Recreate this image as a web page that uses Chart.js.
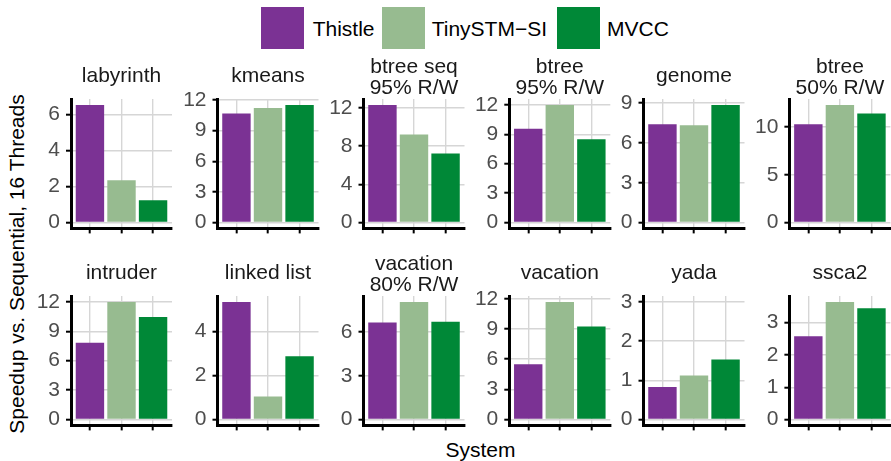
<!DOCTYPE html>
<html><head><meta charset="utf-8">
<script src="https://cdn.jsdelivr.net/npm/chart.js@4.4.1/dist/chart.umd.min.js"></script>
<style>
html,body{margin:0;padding:0;background:#fff;}
#root{position:relative;width:891px;height:461px;overflow:hidden;font-family:"Liberation Sans",Arial,sans-serif;}
#root canvas{position:absolute;}
.sw{position:absolute;top:7px;width:43px;height:42px;}
.lt{position:absolute;top:18px;font-size:21px;line-height:21px;color:#000;white-space:nowrap;}
#xt{position:absolute;left:380px;width:201px;text-align:center;top:439px;font-size:21px;line-height:21px;color:#000;}
#yt{position:absolute;left:-183px;top:252px;width:400px;height:24px;line-height:24px;text-align:center;font-size:21px;color:#000;transform:rotate(-90deg);white-space:nowrap;}
</style></head><body><div id="root"></div>
<script>
// ---- data ----
const systems = ['Thistle', 'TinySTM\u2212SI', 'MVCC'];
const colors = ['#7B3294', '#97BB90', '#008837'];
const benchmarks = [['labyrinth'], ['kmeans'], ['btree seq', '95% R/W'], ['btree', '95% R/W'], ['genome'], ['btree', '50% R/W'],
                    ['intruder'], ['linked list'], ['vacation', '80% R/W'], ['vacation'], ['yada'], ['ssca2']];
const thistle = [6.54, 10.69, 12.33, 9.56, 7.41, 10.30, 7.83, 5.33, 6.64, 5.49, 0.83, 2.58];
const tinystm = [2.35, 11.22, 9.23, 12.00, 7.34, 12.33, 12.00, 1.04, 8.06, 11.69, 1.12, 3.64];
const mvcc    = [1.24, 11.53, 7.23, 8.49, 8.87, 11.43, 10.47, 2.87, 6.70, 9.24, 1.53, 3.44];
const yTicks = [[0,2,4,6], [0,3,6,9,12], [0,4,8,12], [0,3,6,9,12], [0,3,6,9], [0,5,10],
                [0,3,6,9,12], [0,2,4], [0,3,6], [0,3,6,9,12], [0,1,2,3], [0,1,2,3]];
const yExpandTo = [0,0,0,0,0,0,0,0,0,0,3,0];
const yTitle = 'Speedup vs. Sequential, 16 Threads';
const xTitle = 'System';

// ---- layout ----
const root = document.getElementById('root');
const panelLeft = [71, 217.5, 363.5, 509.3, 643.5, 789.4];
const rowTop = [99, 296];
const panelW = 101, panelH = 135.5, titleH = 48, axisPad = 42;
const swLeft = [261, 382, 556.7], txtLeft = [312.7, 431.7, 607];
const FONT = "'Liberation Sans', Arial, sans-serif";
Chart.defaults.font.family = FONT;

systems.forEach((s, i) => {
  const sw = document.createElement('div');
  sw.className = 'sw'; sw.style.left = swLeft[i] + 'px'; sw.style.background = colors[i];
  root.appendChild(sw);
  const t = document.createElement('div');
  t.className = 'lt'; t.style.left = txtLeft[i] + 'px'; t.textContent = s;
  root.appendChild(t);
});
const xt = document.createElement('div'); xt.id = 'xt'; xt.textContent = xTitle; root.appendChild(xt);
const yt = document.createElement('div'); yt.id = 'yt'; yt.textContent = yTitle; root.appendChild(yt);

const series = [thistle, tinystm, mvcc];
benchmarks.forEach((title, p) => {
  const col = p % 6, row = Math.floor(p / 6);
  const L = panelLeft[col], T = rowTop[row];
  const cLeft = Math.floor(L) - axisPad;
  const yW = L - cLeft;
  const cTop = T - titleH;
  const cW = Math.ceil(yW + panelW) + 1;
  const padRight = cW - yW - panelW;
  const cH = Math.ceil(titleH + panelH + 12);
  const xH = cH - titleH - panelH;
  const cv = document.createElement('canvas');
  cv.width = cW; cv.height = cH;
  cv.style.left = cLeft + 'px'; cv.style.top = cTop + 'px';
  root.appendChild(cv);
  const lim = Math.max(...series.map(s => s[p]), yExpandTo[p]);
  const two = title.length > 1;
  new Chart(cv, {
    type: 'bar',
    data: {
      datasets: systems.map((s, i) => ({
        label: s, data: [{ x: i + 1, y: series[i][p] }],
        backgroundColor: colors[i], borderWidth: 0, grouped: false,
        barPercentage: 0.9, categoryPercentage: 1
      }))
    },
    options: {
      responsive: false, animation: false, devicePixelRatio: 1,
      layout: { padding: { left: 0, right: padRight, top: 0, bottom: 0 } },
      plugins: {
        legend: { display: false }, tooltip: { enabled: false },
        title: {
          display: true, text: title, fullSize: false, color: '#1A1A1A',
          font: { size: 21, weight: 'normal', lineHeight: 1 },
          padding: two ? { top: 6, bottom: 0 } : { top: 15, bottom: 12 }
        }
      },
      scales: {
        x: {
          type: 'linear', min: 0.4, max: 3.6, offset: false, bounds: 'data',
          grid: { offset: false, color: '#d6d6d6', lineWidth: 1.4, tickColor: '#000', tickWidth: 2, tickLength: 5 },
          border: { display: true, color: '#000', width: 3 },
          ticks: { callback: () => '', padding: 0, autoSkip: false, maxRotation: 0 },
          afterBuildTicks: s => { s.ticks = systems.map((_, i) => ({ value: i + 1 })); },
          afterFit: s => { s.height = xH; }
        },
        y: {
          type: 'linear', min: -0.05 * lim, max: 1.05 * lim, bounds: 'data', beginAtZero: false,
          grid: { color: '#d6d6d6', lineWidth: 1.4, tickColor: '#000', tickWidth: 2, tickLength: 5 },
          border: { display: true, color: '#000', width: 3 },
          ticks: { color: '#4D4D4D', font: { size: 21 }, padding: 6, autoSkip: false },
          afterBuildTicks: s => { s.ticks = yTicks[p].map(v => ({ value: v })); },
          afterFit: s => { s.width = yW; }
        }
      }
    }
  });
});
</script></body></html>
